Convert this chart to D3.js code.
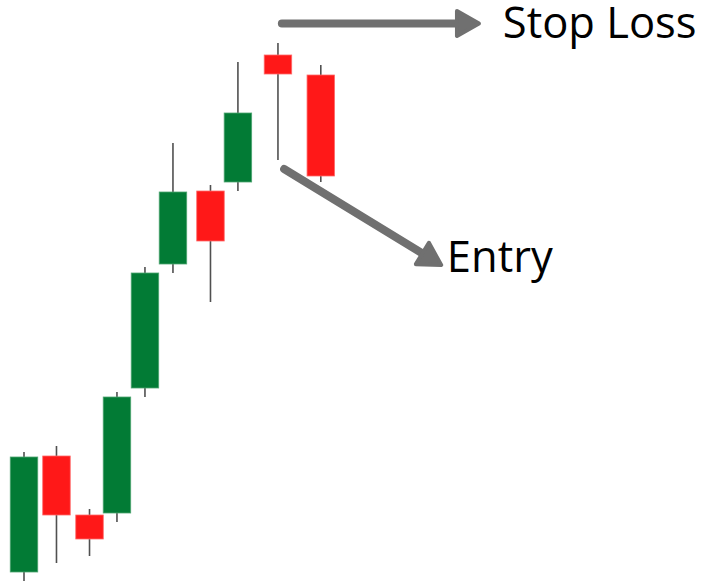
<!DOCTYPE html>
<meta charset="utf-8">
<script src="https://d3js.org/d3.v7.min.js"></script>
<body style="margin:0; background:#fff; font-family: 'Open Sans', sans-serif">
<div id="chart"></div>
</body>
<script>
    // Candle data (slot position, open, high, low, close)
    var slots = [0, 1.16, 2.34, 3.32, 4.32, 5.32, 6.66, 7.64, 9.07, 10.6];
    var opens = [3.6, 26.8, 15, 15.4, 40.4, 65.2, 79.8, 81.6, 107, 103];
    var highs = [27.6, 28.8, 16.2, 39.6, 64.6, 89.4, 81, 105.6, 109.4, 105];
    var lows = [1.8, 5.4, 6.8, 13.6, 38.6, 63.4, 57.6, 79.8, 86, 81.6];
    var closes = [26.6, 15, 10.2, 38.6, 63.4, 79.6, 69.8, 95.4, 103.2, 82.8];

    // Annotations (slot / price units)
    var labels = ["Stop Loss", "Entry"];
    var arrowFrom = [[9.21, 113.3], [9.29, 84.2]];
    var arrowTo = [[16.32, 113.3], [14.96, 64.8]];
    var labelAt = [[17.1, 110.4], [15.1, 63.6]];

    var width = 707, height = 586;

    var candles = slots.map(function (s, i) {
        return {s: s, o: opens[i], h: highs[i], l: lows[i], c: closes[i]};
    });

    var svg = d3.select("#chart")
        .append("svg")
        .attr("width", width)
        .attr("height", height);

    // Scales
    var x = d3.scaleLinear().domain([0, 1]).range([24, 52]);
    var y = d3.scaleLinear().domain([0, 118]).range([590, 0]);
    var bw = x(1) - x(0) - 0.5;

    // Wicks
    svg.append("g")
        .selectAll("line")
        .data(candles)
        .enter()
        .append("line")
        .attr("x1", function (d) { return x(d.s); })
        .attr("x2", function (d) { return x(d.s); })
        .attr("y1", function (d) { return y(d.h); })
        .attr("y2", function (d) { return y(d.l); })
        .style("stroke", "#505050")
        .style("stroke-width", 1.6);

    // Bodies
    svg.append("g")
        .selectAll("rect")
        .data(candles)
        .enter()
        .append("rect")
        .attr("x", function (d) { return x(d.s) - bw / 2; })
        .attr("width", bw)
        .attr("y", function (d) { return y(Math.max(d.o, d.c)); })
        .attr("height", function (d) { return Math.abs(y(d.o) - y(d.c)); })
        .style("fill", function (d) { return d.c > d.o ? "#027b35" : "#ff1818"; })
        .style("stroke", function (d) { return d.c > d.o ? "#4fa572" : "#ff6a6a"; })
        .style("stroke-width", 0.8);

    // Arrows
    var grey = "#707070";
    labels.forEach(function (t, i) {
        var x0 = x(arrowFrom[i][0]), y0 = y(arrowFrom[i][1]);
        var x1 = x(arrowTo[i][0]), y1 = y(arrowTo[i][1]);
        var len = Math.hypot(x1 - x0, y1 - y0);
        var ux = (x1 - x0) / len, uy = (y1 - y0) / len;
        var head = 22, half = 12.5;
        var tipX = x1 - ux * 2, tipY = y1 - uy * 2;
        var bx = tipX - ux * head, by = tipY - uy * head;

        svg.append("line")
            .attr("x1", x0).attr("y1", y0)
            .attr("x2", bx + ux * 2).attr("y2", by + uy * 2)
            .style("stroke", grey)
            .style("stroke-width", 8)
            .style("stroke-linecap", "round");

        svg.append("path")
            .attr("d", d3.line()([
                [tipX, tipY],
                [bx - uy * half, by + ux * half],
                [bx + uy * half, by - ux * half]
            ]) + "Z")
            .style("fill", grey)
            .style("stroke", grey)
            .style("stroke-width", 4)
            .style("stroke-linejoin", "round");

        svg.append("text")
            .attr("x", x(labelAt[i][0]))
            .attr("y", y(labelAt[i][1]))
            .style("font-size", "43.5px")
            .style("fill", "#000")
            .text(t);
    });
</script>
